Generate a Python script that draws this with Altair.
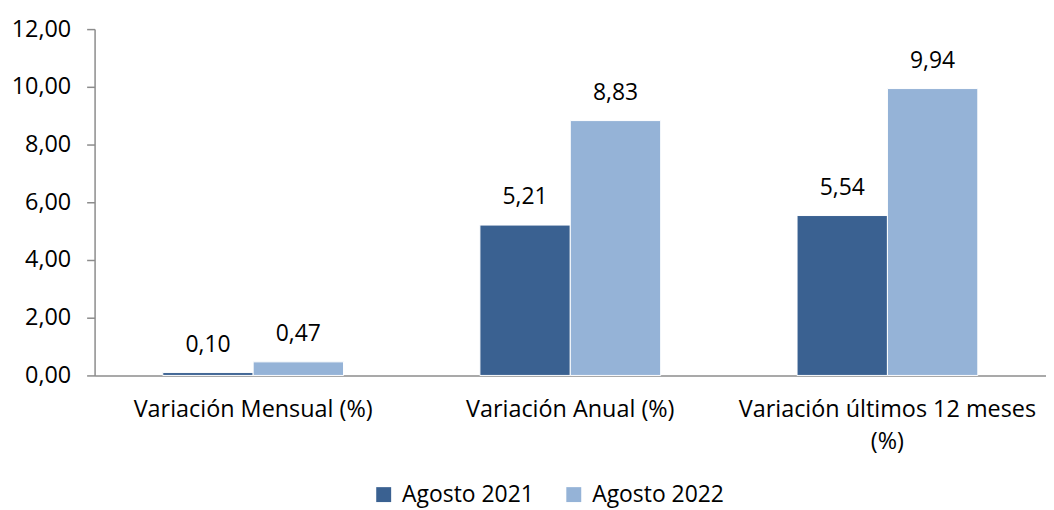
import altair as alt
import pandas as pd

categories = ["Variación Mensual (%)", "Variación  Anual (%)", "Variación últimos 12 meses (%)"]
series = ["Agosto 2021", "Agosto 2022"]
values_2021 = [0.10, 5.21, 5.54]
values_2022 = [0.47, 8.83, 9.94]
colors = ["#3A6191", "#95B3D7"]

rows = []
for c, a, b in zip(categories, values_2021, values_2022):
    rows.append({"cat": c, "serie": series[0], "val": a})
    rows.append({"cat": c, "serie": series[1], "val": b})
df = pd.DataFrame(rows)

FONT = "Open Sans"

x = alt.X("cat:N", sort=categories, title=None,
          scale=alt.Scale(paddingInner=0.43, paddingOuter=0.215),
          axis=alt.Axis(labelAngle=0, labelFontSize=23.5, labelFont=FONT, labelColor="#000000",
                        domainColor="#8C8C8C", domainWidth=1.5, ticks=False, labelPadding=22,
                        labelLimit=400, labelLineHeight=32,
                        labelExpr="datum.label == 'Variación últimos 12 meses (%)' ? ['Variación últimos 12 meses', '(%)'] : datum.label"))
y = alt.Y("val:Q", title=None,
          scale=alt.Scale(domain=[0, 12], nice=False),
          axis=alt.Axis(values=[0, 2, 4, 6, 8, 10, 12], grid=False, labelFontSize=23.5, labelFont=FONT,
                        labelColor="#000000", domainColor="#8C8C8C", domainWidth=1.5,
                        tickColor="#8C8C8C", tickSize=8, tickWidth=1.5, labelPadding=16,
                        labelExpr="replace(format(datum.value, '.2f'), '.', ',')"))
xo = alt.XOffset("serie:N", sort=series)
color = alt.Color("serie:N", sort=series,
                  scale=alt.Scale(domain=series, range=colors),
                  legend=alt.Legend(title=None, orient="none", legendX=279, legendY=456,
                                    direction="horizontal",
                                    symbolType="square", symbolSize=225, symbolStrokeWidth=0,
                                    labelFontSize=23, labelFont=FONT, labelColor="#000000",
                                    columnPadding=28, labelOffset=7))

base = alt.Chart(df).encode(x=x, xOffset=xo)
bars = base.mark_bar(stroke="white", strokeWidth=1).encode(y=y, color=color)
labels = base.mark_text(baseline="bottom", dy=-16, fontSize=23, font=FONT, color="#000000").encode(
    y="val:Q",
    text=alt.Text("lbl:N"),
).transform_calculate(lbl="replace(format(datum.val, '.2f'), '.', ',')")

chart = alt.layer(bars, labels).properties(
    width=956, height=348,
    padding={"left": 3, "top": 8, "right": 0, "bottom": 0},
).configure(background="white").configure_view(stroke=None)

chart.save("out.html", embed_options={"renderer": "svg", "actions": False})
